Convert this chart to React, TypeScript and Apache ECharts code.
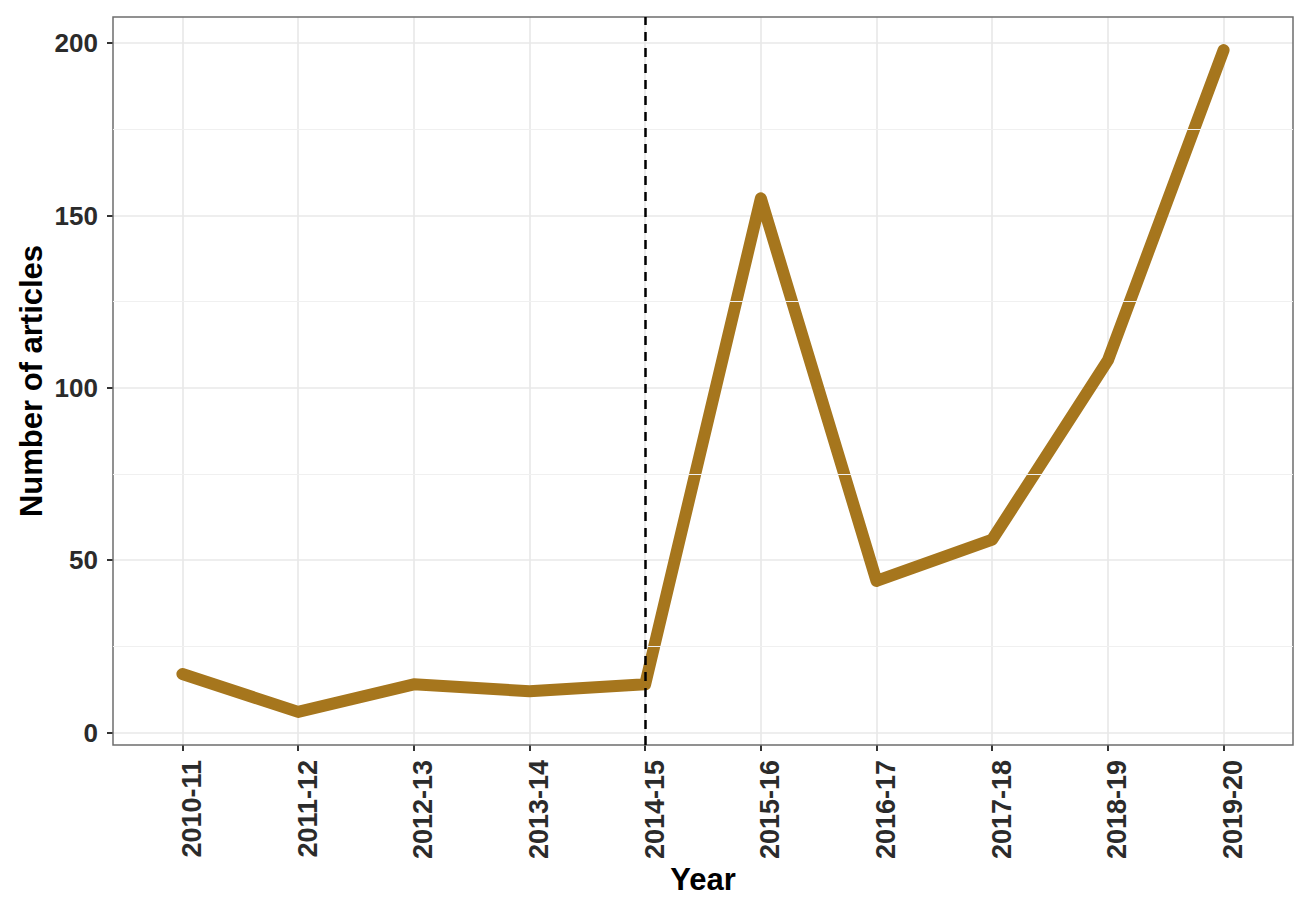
import React, { useEffect, useRef } from "react";
import * as echarts from "echarts";

const categories = ["2010-11", "2011-12", "2012-13", "2013-14", "2014-15", "2015-16", "2016-17", "2017-18", "2018-19", "2019-20"];
const articles = [17, 6, 14, 12, 14, 155, 44, 56, 108, 198];
const yTicks = [0, 50, 100, 150, 200];
const yMinorLines = [25, 75, 125, 175];
const markerCategory = "2014-15";

const Y_MIN = -3.6;
const Y_MAX = 207.6;
const X_MIN = -0.6;
const X_MAX = categories.length - 1 + 0.6;

export default function App() {
  const ref = useRef<HTMLDivElement>(null);
  useEffect(() => {
    document.body.style.margin = "0";
    if (!ref.current) return;
    const chart = echarts.init(ref.current, undefined, { renderer: "svg" });
    const font = "'Liberation Sans', Arial, Helvetica, sans-serif";
    const catIdx = categories.map((_, i) => i);
    chart.setOption({
      animation: false,
      backgroundColor: "#ffffff",
      textStyle: { fontFamily: font },
      grid: {
        left: 113,
        top: 17,
        width: 1180,
        height: 728,
        containLabel: false,
        outerBoundsMode: "none",
        show: true,
        borderColor: "#6e6e6e",
        borderWidth: 1.5,
        backgroundColor: "transparent",
        z: 3,
      },
      xAxis: {
        type: "value",
        min: X_MIN,
        max: X_MAX,
        axisLine: { show: false, onZero: false },
        axisTick: { show: true, length: 6, customValues: catIdx, lineStyle: { color: "#333", width: 2 } },
        axisLabel: {
          customValues: catIdx,
          rotate: 90,
          margin: 15,
          verticalAlign: "top",
          lineHeight: 19,
          fontSize: 27,
          fontWeight: "bold",
          color: "#2b2b2b",
          fontFamily: font,
          formatter: (v: number) => categories[Math.round(v)] ?? "",
        },
        splitLine: { show: true, lineStyle: { color: "#e8e8e8", width: 1.6 } },
        name: "Year",
        nameLocation: "middle",
        nameGap: 119,
        nameMoveOverlap: false,
        nameTextStyle: { fontSize: 31, fontWeight: "bold", color: "#000", fontFamily: font },
      },
      yAxis: {
        type: "value",
        min: Y_MIN,
        max: Y_MAX,
        axisLine: { show: false, onZero: false },
        axisTick: { show: true, length: 6, customValues: yTicks, lineStyle: { color: "#333", width: 2 } },
        axisLabel: { customValues: yTicks, margin: 15, fontSize: 26, fontWeight: "bold", color: "#2b2b2b", fontFamily: font },
        splitLine: { show: true, lineStyle: { color: "#e8e8e8", width: 1.6 } },
        name: "Number of articles",
        nameLocation: "middle",
        nameGap: 66,
        nameMoveOverlap: false,
        nameRotate: 90,
        nameTextStyle: { fontSize: 31, fontWeight: "bold", color: "#000", fontFamily: font },
      },
      series: [
        {
          type: "line",
          data: [],
          silent: true,
          markLine: {
            silent: true,
            symbol: "none",
            label: { show: false },
            lineStyle: { color: "#f0f0f0", width: 1, type: "solid" },
            data: yMinorLines.map((v) => ({ yAxis: v })),
          },
        },
        {
          type: "line",
          data: articles.map((v, i) => [i, v]),
          symbol: "none",
          lineStyle: { color: "#A6761D", width: 12, cap: "round", join: "round" },
          itemStyle: { color: "#A6761D" },
        },
        {
          type: "line",
          data: [],
          silent: true,
          markLine: {
            silent: true,
            symbol: "none",
            label: { show: false },
            lineStyle: { color: "#000", width: 2.5, type: [9, 7] },
            data: [{ xAxis: categories.indexOf(markerCategory) }],
          },
        },
      ],
    });
    return () => chart.dispose();
  }, []);
  return <div ref={ref} style={{ width: 1299, height: 902 }} />;
}
